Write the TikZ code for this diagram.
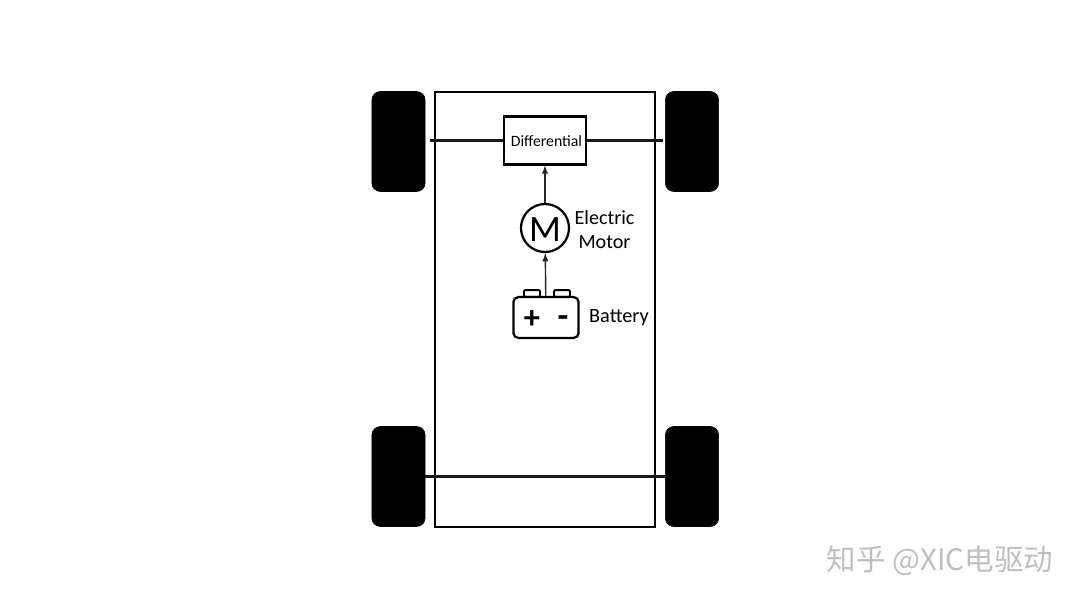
\documentclass[tikz,border=0pt]{standalone}
\usepackage{fontspec}
\setmainfont{Carlito}
\newfontfamily\cjkwm{Noto Sans CJK SC}
\usetikzlibrary{arrows}
\tikzset{
  wheel/.style={fill=black,draw=black,rounded corners=6pt,minimum width=1.33cm,minimum height=2.5cm,inner sep=0pt},
  terminal/.style={draw=black,line width=1.3pt,rounded corners=.8pt,minimum width=.4cm,minimum height=.17cm,inner sep=0pt},
  shaft/.style={line width=1.8pt,color=black!90},
  feed/.style={-latex,line width=1pt,color=black!85}
}

\begin{document}
\begin{tikzpicture}[x=.025cm,y=-.025cm]
  \useasboundingbox (0,0) rectangle (1080,608);

  \draw (545,309.5) node (chassis) [draw=black,line width=1.3pt,minimum width=5.5cm,minimum height=10.875cm,inner sep=0pt] {};

  \draw (398.5,141.5) node[wheel] (wheelfl) {};
  \draw (692,141.5) node[wheel] (wheelfr) {};
  \draw (398.5,476.5) node[wheel] (wheelrl) {};
  \draw (692,476.5) node[wheel] (wheelrr) {};

  \draw (545,140.5) node[draw=black,line width=2pt,minimum width=2.05cm,minimum height=1.18cm,inner sep=0pt] (diff) {};
  \draw (546.5,141.5) node[font=\fontsize{11.2pt}{13pt}\selectfont] (difflabel) {Differential};
  \draw (545,228) node[circle,draw=black,line width=1.6pt,minimum size=1.2cm,inner sep=0pt] (motor) {};
  \draw (545,229.5) node[font=\fontsize{26.5pt}{28pt}\selectfont] (motorletter) {M};
  \draw (604.5,229.5) node[align=center,font=\fontsize{14.3pt}{17pt}\selectfont] (motorlabel) {Electric\\Motor};

  \draw (532,293.5) node[terminal] (termplus) {};
  \draw (562,293.5) node[terminal] (termminus) {};
  \draw (546,317.5) node[draw=black,fill=white,line width=1.6pt,rounded corners=3.5pt,minimum width=1.63cm,minimum height=1.02cm,inner sep=0pt] (battery) {};
  \draw (532,320) node[font=\fontsize{23pt}{25pt}\selectfont\bfseries] (plus) {+};
  \draw (563,322) node[font=\fontsize{25pt}{25pt}\selectfont\bfseries] (minus) {-};
  \draw (619,317.5) node[font=\fontsize{14.4pt}{15pt}\selectfont] (batterylabel) {Battery};

  \coordinate (axleleft) at (430,140.5);
  \coordinate (axleright) at (663,140.5);

  \path[shaft] (axleleft) edge (diff);
  \path[shaft] (diff) edge (axleright);
  \path[shaft] (wheelrl) edge (wheelrr);
  \path[feed] (motor) edge (diff);
  \path[feed] (battery) edge (motor);

  \draw (940,561) node[color=black!25,font=\fontsize{21pt}{24pt}\selectfont\cjkwm] (watermark) {知乎 @XIC电驱动};
\end{tikzpicture}
\end{document}
